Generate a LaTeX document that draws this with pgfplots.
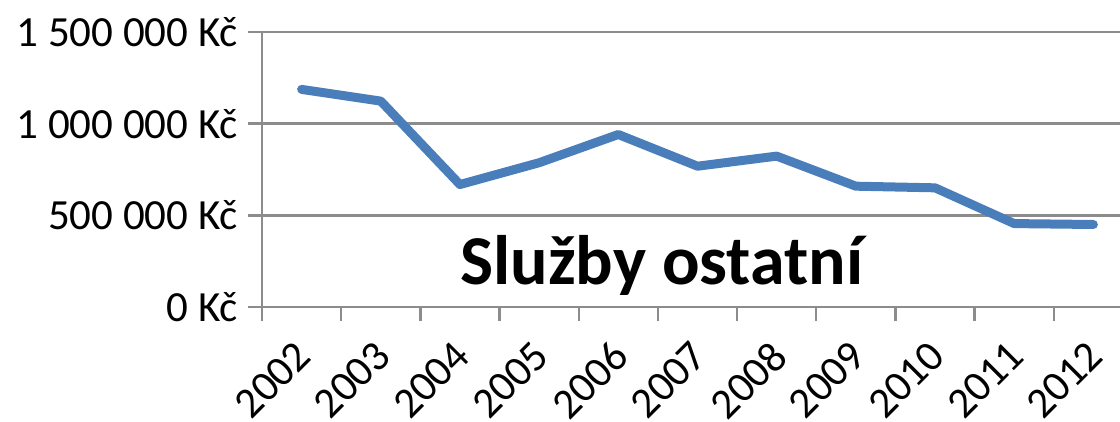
\documentclass[border=0pt]{standalone}
\usepackage{pgfplots}
\pgfplotsset{compat=1.18}
\usepackage{fontspec}
\setmainfont{Carlito}
\definecolor{linkblue}{HTML}{4A7EBB}
\definecolor{gridgray}{HTML}{8C8C8C}
\begin{document}
\begin{tikzpicture}
  \begin{axis}[
    name=ax,
    scale only axis,
    width=435.5pt, height=137.5pt,
    xmin=-0.5, xmax=10.5,
    ymin=0, ymax=1500000,
    scaled y ticks=false,
    axis lines=left,
    axis line style={-, gridgray, line width=1.2pt},
    ymajorgrids, grid style={gridgray, line width=1.2pt},
    tick align=outside,
    major tick length=7pt,
    tick style={gridgray, line width=1.2pt},
    xtick={-0.5,0.5,...,10.5}, xticklabels={},
    extra x ticks={0,1,2,3,4,5,6,7,8,9,10},
    extra x tick labels={2002,2003,2004,2005,2006,2007,2008,2009,2010,2011,2012},
    extra x tick style={major tick length=0pt},
    xticklabel style={font=\fontsize{21.5}{25}\selectfont, xshift=-4pt, yshift=-11pt, rotate=45, anchor=north east},
    ytick={0,500000,1000000,1500000},
    yticklabels={0 Kč, 500 000 Kč, 1 000 000 Kč, 1 500 000 Kč},
    yticklabel style={font=\fontsize{21.5}{25}\selectfont, xshift=-1.5pt},
  ]
    \addplot[linkblue, line width=4.5pt, line join=round, line cap=round] coordinates {
      (0,1187000) (1,1123000) (2,668000) (3,787000) (4,941000) (5,768000)
      (6,823000) (7,659000) (8,650000) (9,455000) (10,450000)};
    \node[anchor=base, font=\fontsize{35}{40}\selectfont\bfseries] at (rel axis cs:0.459,0.08) {Služby ostatní};
  \end{axis}
  \pgfresetboundingbox
  \path[use as bounding box] ([shift={(-131pt,-57.5pt)}]ax.south west) rectangle ++(560pt,211pt);
\end{tikzpicture}
\end{document}
